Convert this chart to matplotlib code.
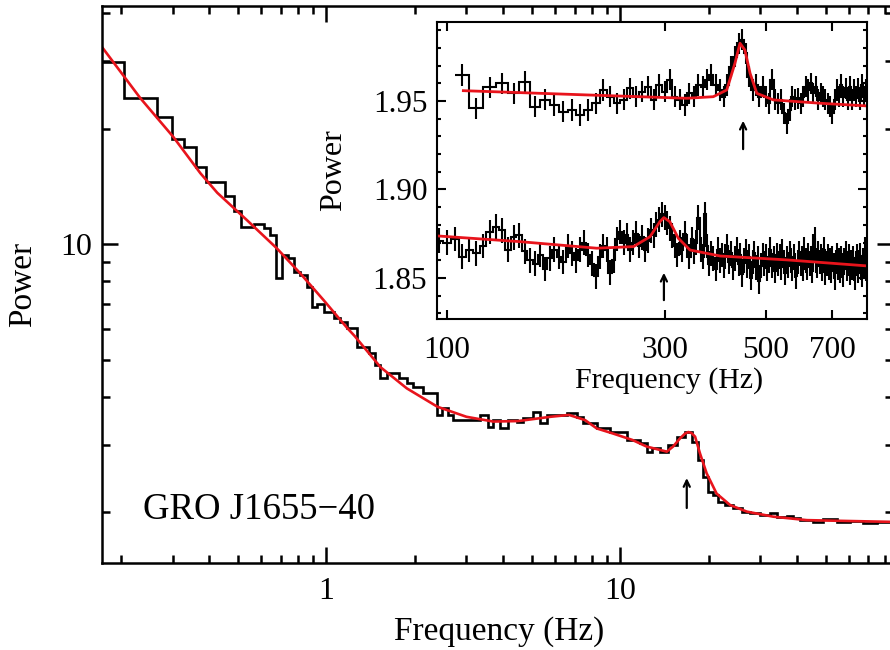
import numpy as np
import matplotlib
matplotlib.use("Agg")
import matplotlib.pyplot as plt
from matplotlib.ticker import FixedLocator, NullFormatter, NullLocator, FixedFormatter

plt.rcParams['font.family'] = ['Liberation Serif', 'DejaVu Serif']

# ---------------- main power spectrum (binned, Hz) ----------------
main_edges = [0.1726, 0.2044, 0.2655, 0.2986, 0.3270, 0.3603, 0.3898, 0.4533, 0.4838, 0.5127,
              0.5659, 0.6118, 0.6413, 0.6744, 0.7067, 0.7385, 0.7740, 0.8156, 0.8599, 0.8942,
              0.9298, 0.9790, 1.0588, 1.1158, 1.1760, 1.2718, 1.3928, 1.4678, 1.5261, 1.6084,
              1.7620, 1.8818, 1.9815, 2.1429, 2.2884, 2.3799, 2.4750, 2.6062, 2.7102, 2.8938,
              3.1696, 3.3403, 3.5648, 3.7068, 3.9066, 4.1697, 4.4526, 4.6899, 5.0733, 5.3445,
              5.6326, 6.0909, 6.5872, 7.1236, 7.5030, 8.3337, 9.2470, 10.54, 11.70, 12.33,
              12.82, 13.68, 14.60, 15.59, 16.64, 17.58, 18.47, 19.20, 19.97, 20.77,
              21.60, 22.76, 24.29, 25.94, 27.69, 29.94, 32.37, 34.12, 36.90, 38.86,
              40.95, 45.45, 49.14, 54.59, 60.58, 67.23, 74.66, 84.85]
main_power = [29.73, 23.96, 21.38, 18.74, 17.92, 15.90, 14.53, 13.34, 12.21, 11.05,
              11.27, 10.99, 10.55, 8.14, 9.36, 9.18, 8.47, 8.30, 7.72, 6.84,
              6.98, 6.66, 6.41, 6.28, 6.03, 5.40, 5.20, 4.84, 4.48, 4.61,
              4.48, 4.35, 4.24, 4.09, 4.09, 3.59, 3.74, 3.59, 3.48, 3.48,
              3.48, 3.59, 3.34, 3.48, 3.32, 3.48, 3.44, 3.52, 3.65, 3.42,
              3.59, 3.59, 3.63, 3.54, 3.42, 3.32, 3.24, 3.09, 3.03, 2.87,
              2.94, 2.87, 3.00, 3.14, 3.24, 3.05, 2.74, 2.47, 2.26, 2.22,
              2.13, 2.09, 2.05, 2.00, 1.99, 1.97, 1.99, 1.95, 1.96, 1.93,
              1.91, 1.89, 1.92, 1.89, 1.90, 1.88, 1.89]

# best-fit model curve (Hz, power)
model_f = [0.1726, 0.233, 0.302, 0.373, 0.426, 0.537, 0.679, 0.816, 0.979, 1.18,
           1.25, 1.53, 1.88, 2.39, 3.0, 3.70, 4.5, 5.8, 6.7, 7.6,
           8.33, 9.47, 11.0, 12.3, 14.42, 15.15, 16.0, 16.64, 17.08, 17.5,
           18.0, 18.7, 19.7, 21.3, 23.7, 27.0, 33.2, 43.2, 60.0, 84.85]
model_p = [32.6, 24.0, 19.0, 15.3, 13.6, 11.55, 9.75, 8.39, 7.15, 6.04,
           5.76, 4.78, 4.21, 3.77, 3.55, 3.45, 3.46, 3.55, 3.59, 3.48,
           3.31, 3.21, 3.09, 2.97, 2.88, 2.97, 3.12, 3.21, 3.24, 3.22,
           3.15, 2.85, 2.53, 2.24, 2.09, 2.01, 1.95, 1.91, 1.90, 1.89]

main_arrow_f = 16.86
main_arrow_p = (2.02, 2.50)

# ---------------- inset: high-frequency spectra ----------------
top_f0, top_df = 104.0, 8.0
top_power = [1.9647, 1.9459, 1.9577, 1.9600, 1.9543, 1.9609, 1.9468, 1.9506, 1.9477, 1.9440,
             1.9449, 1.9421, 1.9449, 1.9487, 1.9562, 1.9524, 1.9487, 1.9506, 1.9572, 1.9524,
             1.9553, 1.9581, 1.9506, 1.9590, 1.9553, 1.9619, 1.9524, 1.9506, 1.9477, 1.9543,
             1.9524, 1.9590, 1.9581, 1.9619, 1.9647, 1.9590, 1.9562, 1.9524, 1.9590, 1.9694,
             1.9750, 1.9826, 1.9845, 1.9769, 1.9637, 1.9562, 1.9590, 1.9524, 1.9581, 1.9524,
             1.9487, 1.9619, 1.9506, 1.9487, 1.9506, 1.9430, 1.9374, 1.9449, 1.9524, 1.9506,
             1.9515, 1.9487, 1.9524, 1.9581, 1.9562, 1.9600, 1.9543, 1.9581, 1.9506, 1.9543,
             1.9524, 1.9506, 1.9487, 1.9468, 1.9430, 1.9506, 1.9562, 1.9524, 1.9590, 1.9524,
             1.9572, 1.9506, 1.9581, 1.9506, 1.9562, 1.9524, 1.9572, 1.9506, 1.9590, 1.9524,
             1.9562]
top_err = 0.006
top_model_f = [108.6, 202.5, 335.4, 383.7, 410.6, 428.0, 439.0, 450.0, 462.0, 478.0, 519.5, 658.0, 832.5]
top_model_p = [1.9558, 1.9534, 1.9515, 1.9524, 1.9562, 1.9713, 1.9826, 1.9788, 1.9656, 1.9543,
               1.9506, 1.9487, 1.9472]

bot_f0, bot_df = 94.0, 4.0
bot_power = [1.871, 1.870, 1.872, 1.862, 1.866, 1.864, 1.868, 1.876, 1.879, 1.877,
             1.866, 1.873, 1.874, 1.865, 1.860, 1.858, 1.863, 1.855, 1.861, 1.866,
             1.862, 1.859, 1.868, 1.864, 1.860, 1.866, 1.870, 1.863, 1.858, 1.851,
             1.862, 1.868, 1.866, 1.853, 1.860, 1.872, 1.876, 1.870, 1.874, 1.866,
             1.870, 1.875, 1.868, 1.873, 1.866, 1.871, 1.877, 1.874, 1.880, 1.883,
             1.886, 1.884, 1.881, 1.878, 1.874, 1.868, 1.863, 1.870, 1.866, 1.875,
             1.868, 1.862, 1.872, 1.865, 1.870, 1.884, 1.866, 1.862, 1.886, 1.868,
             1.858, 1.864, 1.861, 1.855, 1.866, 1.860, 1.863, 1.857, 1.862, 1.868,
             1.859, 1.864, 1.856, 1.861, 1.866, 1.858, 1.863, 1.852, 1.860, 1.865,
             1.857, 1.862, 1.850, 1.859, 1.864, 1.856, 1.861, 1.848, 1.857, 1.863,
             1.858, 1.862, 1.855, 1.860, 1.866, 1.857, 1.861, 1.854, 1.863, 1.858,
             1.862, 1.856, 1.865, 1.859, 1.853, 1.861, 1.857, 1.864, 1.860, 1.855,
             1.862, 1.857, 1.851, 1.859, 1.864, 1.858, 1.861, 1.855, 1.866, 1.860,
             1.856, 1.863, 1.858, 1.861, 1.854, 1.868, 1.872, 1.860, 1.857, 1.864,
             1.859, 1.862, 1.855, 1.860, 1.866, 1.853, 1.858, 1.862, 1.856, 1.860,
             1.854, 1.861, 1.857, 1.850, 1.859, 1.863, 1.856, 1.860, 1.854, 1.861,
             1.857, 1.852, 1.860, 1.864, 1.855, 1.858, 1.862, 1.853, 1.859, 1.856,
             1.861, 1.855, 1.850, 1.858, 1.862, 1.854, 1.859, 1.863, 1.856, 1.852,
             1.860, 1.857, 1.866, 1.855, 1.858]
bot_err = 0.007
bot_model_f = [95.7, 144.6, 213.0, 256.3, 278.7, 293.0, 299.0, 308.0, 321.6, 341.0, 397.0, 556.0, 834.0]
bot_model_p = [1.8737, 1.8705, 1.8668, 1.8677, 1.8733, 1.8818, 1.8841, 1.8818, 1.8724, 1.8658,
               1.8624, 1.8602, 1.8568]

top_arrow = (446.0, 1.9212, 1.9404)
bot_arrow = (299.0, 1.8359, 1.8545)

# ---------------- figure ----------------
W, H = 890, 650
fig = plt.figure(figsize=(W / 100, H / 100), dpi=100)

def fa(l, t, r, b):
    return [l / W, 1 - b / H, (r - l) / W, (b - t) / H]

RED = '#e8141c'
ARW = dict(arrowstyle='->,head_length=0.45,head_width=0.22', lw=1.6, color='black')

ax = fig.add_axes(fa(102, 6, 893, 563))
ax.set_xscale('log')
ax.set_yscale('log')
ax.stairs(main_power, main_edges, baseline=None, color='black', lw=1.9)
ax.plot(model_f, model_p, color=RED, lw=1.9)
ax.annotate('', xy=(main_arrow_f, main_arrow_p[1]), xytext=(main_arrow_f, main_arrow_p[0]), arrowprops=ARW)
ax.set_xlim(0.1726, 84.85)
ax.set_ylim(1.477, 41.7)

ax.xaxis.set_major_locator(FixedLocator([1, 10]))
ax.xaxis.set_major_formatter(FixedFormatter(['1', '10']))
ax.xaxis.set_minor_locator(FixedLocator([0.2, 0.3, 0.4, 0.5, 0.6, 0.7, 0.8, 0.9,
                                         2, 3, 4, 5, 6, 7, 8, 9, 20, 30, 40, 50, 60, 70, 80]))
ax.xaxis.set_minor_formatter(NullFormatter())
ax.yaxis.set_major_locator(FixedLocator([10]))
ax.yaxis.set_major_formatter(FixedFormatter(['10']))
ax.yaxis.set_minor_locator(FixedLocator([2, 3, 4, 5, 6, 7, 8, 9, 20, 30, 40]))
ax.yaxis.set_minor_formatter(NullFormatter())
ax.tick_params(which='both', direction='in', top=True, right=True, width=1.8, labelsize=23)
ax.tick_params(which='major', length=11.5)
ax.tick_params(which='minor', length=5.8)
ax.tick_params(axis='x', which='major', pad=10)
ax.tick_params(axis='y', which='major', pad=7)
for s in ax.spines.values():
    s.set_linewidth(1.8)

ax.set_xlabel('Frequency (Hz)', fontsize=24, va='baseline')
ax.xaxis.set_label_coords((499 - 102) / 791, (563 - 640) / 557)
ax.set_ylabel('Power', fontsize=24, va='center', ha='center')
ax.yaxis.set_label_coords((23 - 102) / 791, (563 - 284) / 557)

ax.text((143 - 102) / 791, (563 - 519) / 557, 'GRO J1655\u221240', transform=ax.transAxes,
        fontsize=26.5, ha='left', va='baseline')

# ---------------- inset ----------------
axi = fig.add_axes(fa(437, 22, 867, 319))
axi.set_xscale('log')
top_edges = top_f0 + top_df * np.arange(len(top_power) + 1)
top_cent = top_edges[:-1] + top_df / 2
bot_edges = bot_f0 + bot_df * np.arange(len(bot_power) + 1)
bot_cent = bot_edges[:-1] + bot_df / 2

axi.stairs(top_power, top_edges, baseline=None, color='black', lw=1.5)
axi.errorbar(top_cent, top_power, yerr=top_err, fmt='none', ecolor='black', elinewidth=1.5, capsize=0)
axi.stairs(bot_power, bot_edges, baseline=None, color='black', lw=1.5)
axi.errorbar(bot_cent, bot_power, yerr=bot_err, fmt='none', ecolor='black', elinewidth=1.5, capsize=0)
axi.plot(top_model_f, top_model_p, color=RED, lw=2.0)
axi.plot(bot_model_f, bot_model_p, color=RED, lw=2.0)
for (af, a0, a1) in (top_arrow, bot_arrow):
    axi.annotate('', xy=(af, a1), xytext=(af, a0), arrowprops=ARW)

axi.set_xlim(95.08, 833.7)
axi.set_ylim(1.8268, 1.9946)
axi.xaxis.set_major_locator(FixedLocator([100, 300, 500, 700]))
axi.xaxis.set_major_formatter(FixedFormatter(['100', '300', '500', '700']))
axi.xaxis.set_minor_locator(NullLocator())
axi.yaxis.set_major_locator(FixedLocator([1.85, 1.90, 1.95]))
axi.yaxis.set_major_formatter(FixedFormatter(['1.85', '1.90', '1.95']))
axi.yaxis.set_minor_locator(FixedLocator([1.83, 1.84, 1.86, 1.87, 1.88, 1.89, 1.91, 1.92,
                                          1.93, 1.94, 1.96, 1.97, 1.98, 1.99]))
axi.tick_params(which='both', direction='in', top=True, right=True, width=1.5, labelsize=22.5)
axi.tick_params(which='major', length=6.5)
axi.tick_params(which='minor', length=3.2)
axi.tick_params(axis='x', which='major', pad=12)
axi.tick_params(axis='y', which='major', pad=7)
for s in axi.spines.values():
    s.set_linewidth(1.5)
axi.set_xlabel('Frequency (Hz)', fontsize=21.5, va='baseline')
axi.xaxis.set_label_coords((669 - 437) / 430, (319 - 388) / 297)
axi.set_ylabel('Power', fontsize=23, va='center', ha='center')
axi.yaxis.set_label_coords((334 - 437) / 430, (319 - 170) / 297)

fig.savefig('out.png', dpi=100)
